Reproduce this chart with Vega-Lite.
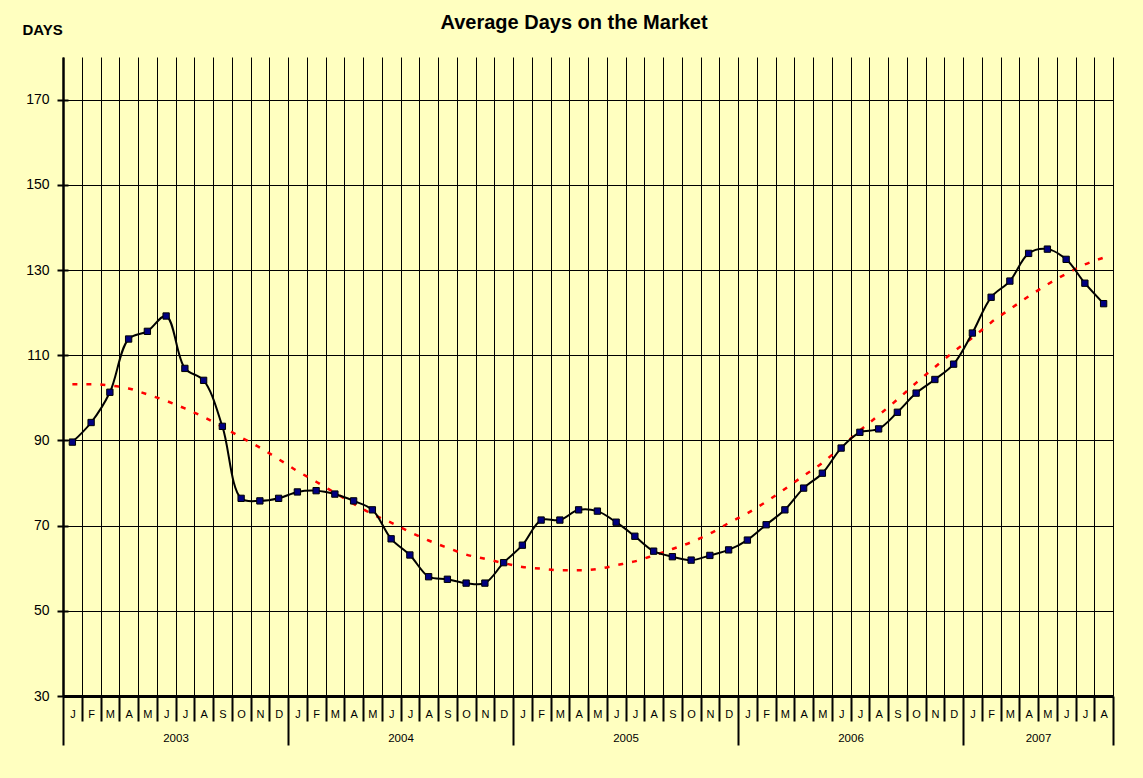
{
  "$schema": "https://vega.github.io/schema/vega-lite/v6.json",
  "width": 1050,
  "height": 639,
  "autosize": {"type": "none"},
  "padding": {"left": 63, "top": 57, "right": 30, "bottom": 82},
  "background": "#FFFFC0",
  "title": {"text": "Average Days on the Market", "font": "Liberation Sans", "fontSize": 20, "fontWeight": "bold", "color": "#000000", "anchor": "middle", "frame": "group", "dx": -14, "offset": -27, "baseline": "alphabetic"},
  "config": {
    "view": {"stroke": null, "fill": "#FFFFC0"},
    "axis": {"labelFont": "Liberation Sans", "titleFont": "Liberation Sans", "labelColor": "#000000", "titleColor": "#000000"}
  },
  "data": {"values": [
    {"n": 1, "days": 89.6, "trend": 103.2},
    {"n": 2, "days": 94.2, "trend": 103.2},
    {"n": 3, "days": 101.3, "trend": 102.9},
    {"n": 4, "days": 113.8, "trend": 102.2},
    {"n": 5, "days": 115.6, "trend": 100.8},
    {"n": 6, "days": 119.2, "trend": 99.3},
    {"n": 7, "days": 106.9, "trend": 97.5},
    {"n": 8, "days": 104.1, "trend": 95.5},
    {"n": 9, "days": 93.3, "trend": 93.2},
    {"n": 10, "days": 76.4, "trend": 90.7},
    {"n": 11, "days": 75.8, "trend": 88.3},
    {"n": 12, "days": 76.4, "trend": 85.6},
    {"n": 13, "days": 77.9, "trend": 82.8},
    {"n": 14, "days": 78.2, "trend": 80.3},
    {"n": 15, "days": 77.4, "trend": 77.7},
    {"n": 16, "days": 75.8, "trend": 75.1},
    {"n": 17, "days": 73.7, "trend": 72.7},
    {"n": 18, "days": 66.9, "trend": 70.7},
    {"n": 19, "days": 63.1, "trend": 68.5},
    {"n": 20, "days": 58.0, "trend": 66.5},
    {"n": 21, "days": 57.4, "trend": 64.8},
    {"n": 22, "days": 56.5, "trend": 63.2},
    {"n": 23, "days": 56.5, "trend": 62.2},
    {"n": 24, "days": 61.3, "trend": 61.2},
    {"n": 25, "days": 65.4, "trend": 60.3},
    {"n": 26, "days": 71.3, "trend": 59.9},
    {"n": 27, "days": 71.3, "trend": 59.5},
    {"n": 28, "days": 73.7, "trend": 59.5},
    {"n": 29, "days": 73.4, "trend": 59.8},
    {"n": 30, "days": 70.8, "trend": 60.7},
    {"n": 31, "days": 67.5, "trend": 61.6},
    {"n": 32, "days": 64.0, "trend": 63.0},
    {"n": 33, "days": 62.7, "trend": 64.5},
    {"n": 34, "days": 61.9, "trend": 66.1},
    {"n": 35, "days": 63.0, "trend": 68.1},
    {"n": 36, "days": 64.3, "trend": 70.6},
    {"n": 37, "days": 66.6, "trend": 72.9},
    {"n": 38, "days": 70.2, "trend": 75.6},
    {"n": 39, "days": 73.7, "trend": 78.6},
    {"n": 40, "days": 78.8, "trend": 81.7},
    {"n": 41, "days": 82.3, "trend": 84.7},
    {"n": 42, "days": 88.2, "trend": 88.5},
    {"n": 43, "days": 91.9, "trend": 92.3},
    {"n": 44, "days": 92.7, "trend": 95.9},
    {"n": 45, "days": 96.6, "trend": 99.6},
    {"n": 46, "days": 101.1, "trend": 103.5},
    {"n": 47, "days": 104.3, "trend": 107.2},
    {"n": 48, "days": 107.9, "trend": 110.8},
    {"n": 49, "days": 115.2, "trend": 114.1},
    {"n": 50, "days": 123.6, "trend": 117.7},
    {"n": 51, "days": 127.4, "trend": 120.8},
    {"n": 52, "days": 133.9, "trend": 123.8},
    {"n": 53, "days": 134.9, "trend": 126.6},
    {"n": 54, "days": 132.5, "trend": 129.1},
    {"n": 55, "days": 126.9, "trend": 131.3},
    {"n": 56, "days": 122.1, "trend": 132.9}
  ]},
  "layer": [
    {
      "mark": {"type": "line", "color": "#FF0000", "strokeWidth": 2.5, "strokeDash": [5, 9], "interpolate": "monotone"},
      "encoding": {
        "x": {
          "field": "n", "type": "quantitative",
          "scale": {"domain": [0.5, 56.5], "nice": false, "zero": false},
          "axis": {
            "orient": "bottom",
            "values": [0.5,1.5,2.5,3.5,4.5,5.5,6.5,7.5,8.5,9.5,10.5,11.5,12.5,13.5,14.5,15.5,16.5,17.5,18.5,19.5,20.5,21.5,22.5,23.5,24.5,25.5,26.5,27.5,28.5,29.5,30.5,31.5,32.5,33.5,34.5,35.5,36.5,37.5,38.5,39.5,40.5,41.5,42.5,43.5,44.5,45.5,46.5,47.5,48.5,49.5,50.5,51.5,52.5,53.5,54.5,55.5,56.5],
            "grid": true, "gridColor": "#000000", "gridWidth": 1, "gridOpacity": 1,
            "ticks": true, "tickColor": "#000000", "tickWidth": 2,
            "tickSize": {"condition": {"test": "(datum.value - 0.5) % 12 == 0 || datum.value == 56.5", "value": 49}, "value": 25},
            "labels": false,
            "domain": true, "domainColor": "#000000", "domainWidth": 3,
            "title": null, "zindex": 0
          }
        },
        "y": {
          "field": "trend", "type": "quantitative",
          "scale": {"domain": [30, 180], "nice": false, "zero": false},
          "axis": {
            "orient": "left",
            "values": [30, 50, 70, 90, 110, 130, 150, 170],
            "grid": true, "gridColor": "#000000", "gridWidth": 1, "gridOpacity": 1,
            "tickColor": "#000000", "tickWidth": 2, "tickSize": 6,
            "labelPadding": 8, "labelFontSize": 14,
            "domainColor": "#000000", "domainWidth": 2.5,
            "title": "DAYS", "titleAngle": 0, "titleX": -41, "titleY": -23,
            "titleAlign": "left", "titleBaseline": "alphabetic",
            "titleFontSize": 15, "titleFontWeight": "bold",
            "zindex": 0
          }
        }
      }
    },
    {
      "mark": {"type": "line", "color": "#000000", "strokeWidth": 2, "interpolate": "catmull-rom"},
      "encoding": {
        "x": {
          "field": "n", "type": "quantitative",
          "axis": {
            "orient": "bottom",
            "values": [1,2,3,4,5,6,7,8,9,10,11,12,13,14,15,16,17,18,19,20,21,22,23,24,25,26,27,28,29,30,31,32,33,34,35,36,37,38,39,40,41,42,43,44,45,46,47,48,49,50,51,52,53,54,55,56],
            "labelExpr": "substring('JFMAMJJASOND', (datum.value - 1) % 12, (datum.value - 1) % 12 + 1)",
            "ticks": false, "tickSize": 0, "domain": false, "grid": false,
            "labelPadding": 12, "labelFontSize": 11,
            "labelFlush": false, "labelOverlap": false, "labelBound": false,
            "title": null
          }
        },
        "y": {
          "field": "days", "type": "quantitative",
          "axis": {
            "orient": "left",
            "values": [30, 50, 70, 90, 110, 130, 150, 170],
            "ticks": true, "tickSize": -5, "tickWidth": 2, "tickColor": "#000000",
            "labels": false, "domain": false, "grid": false, "title": null
          }
        }
      }
    },
    {
      "mark": {"type": "square", "size": 40, "filled": true, "color": "#000080", "stroke": "#000000", "strokeWidth": 1, "opacity": 1},
      "encoding": {
        "x": {
          "field": "n", "type": "quantitative",
          "axis": {
            "orient": "bottom",
            "values": [6.5, 18.5, 30.5, 42.5, 52.5],
            "labelExpr": "'' + (2003 + floor((datum.value - 0.5) / 12))",
            "ticks": false, "tickSize": 0, "domain": false, "grid": false,
            "labelPadding": 36, "labelFontSize": 11.5,
            "labelFlush": false, "labelOverlap": false, "labelBound": false,
            "title": null
          }
        },
        "y": {"field": "days", "type": "quantitative", "axis": null}
      }
    }
  ],
  "resolve": {"axis": {"x": "independent", "y": "independent"}}
}
